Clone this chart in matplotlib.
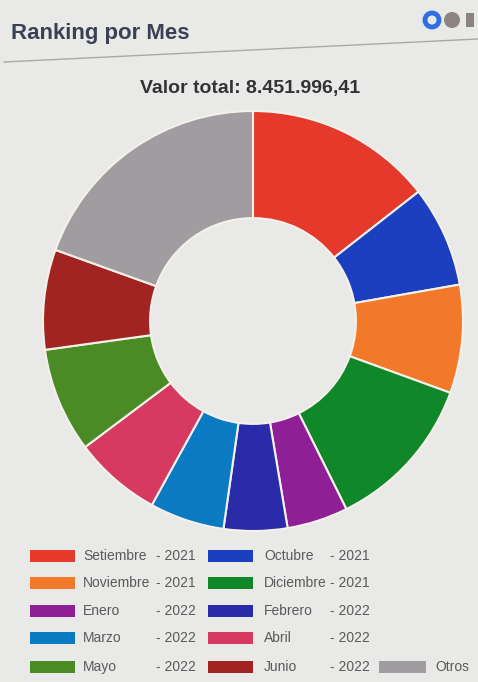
import matplotlib
matplotlib.use("Agg")
import matplotlib.pyplot as plt
from matplotlib.patches import Rectangle, Circle

plt.rcParams['font.family'] = ['Liberation Sans', 'DejaVu Sans']

# data (total = 8.451.996,41)
meses = ["Setiembre", "Octubre", "Noviembre", "Diciembre", "Enero", "Febrero",
         "Marzo", "Abril", "Mayo", "Junio", "Otros"]
anios = ["2021", "2021", "2021", "2021", "2022", "2022",
         "2022", "2022", "2022", "2022", ""]
valores = [1220844, 657378, 704333, 1023631, 396774, 413209,
           485990, 570510, 680855, 650334, 1648138.41]
colores = ["#e5392c", "#1c3fc0", "#f2792a", "#10882a", "#8f1f97", "#2a2ba8",
           "#0a7bc2", "#d63a60", "#4a8b26", "#a22422", "#a09ca0"]

W, H = 478, 682
bg = "#e9e9e7"
fig = plt.figure(figsize=(W/100, H/100), dpi=100)
fig.patch.set_facecolor(bg)

# overlay in pixel coords for title, icons and legend
ov = fig.add_axes([0, 0, 1, 1])
ov.set_xlim(0, W)
ov.set_ylim(H, 0)
ov.axis("off")

ov.text(11, 34, "Ranking por Mes", fontsize=16, fontweight="bold",
        color="#3a4152", va="center", ha="left")
ov.plot([4, W], [62, 39], color="#a8a8a8", lw=1)
ov.add_patch(Circle((432, 20), 7, facecolor="none", edgecolor="#2f6fe0", lw=3.5))
ov.add_patch(Circle((452, 20), 8, facecolor="#8c8482", edgecolor="none"))
ov.add_patch(Rectangle((466, 13), 8, 14, facecolor="#8c8482", edgecolor="none"))

total = sum(valores)
txt = f"{total:,.2f}".replace(",", "X").replace(".", ",").replace("X", ".")
ov.text(250, 88, "Valor total: " + txt, fontsize=14, fontweight="bold",
        color="#333333", ha="center", va="center")

# donut
R = 210
cx, cy = 253, 321
ax = fig.add_axes([(cx - R)/W, (H - cy - R)/H, 2*R/W, 2*R/H])
ax.pie(valores, colors=colores, startangle=90, counterclock=False,
       radius=1, wedgeprops=dict(width=0.51, edgecolor="#f4f1ea", linewidth=1.5))
ax.set_xlim(-1, 1)
ax.set_ylim(-1, 1)
ax.set_aspect("equal")
ax.axis("off")

# legend (2 columns + Otros)
fila_y = [556, 583, 611, 638, 667]
col_x = [(30, 83, 156), (208, 264, 330)]
for i in range(10):
    r, c = i // 2, i % 2
    px, mx, yx = col_x[c]
    y = fila_y[r]
    ov.add_patch(Rectangle((px, y - 6), 45, 12, facecolor=colores[i], edgecolor="none"))
    ov.text(mx, y, meses[i], fontsize=10, color="#5a5a5a", va="center")
    ov.text(yx, y, "- " + anios[i], fontsize=10, color="#5a5a5a", va="center")
ov.add_patch(Rectangle((379, fila_y[4] - 6), 47, 12, facecolor=colores[10], edgecolor="none"))
ov.text(435, fila_y[4], meses[10], fontsize=10, color="#5a5a5a", va="center")

fig.savefig("out.png", dpi=100, facecolor=bg)
